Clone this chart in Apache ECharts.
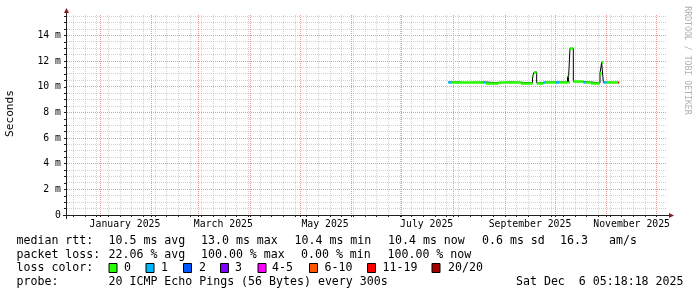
<!DOCTYPE html>
<html><head><meta charset="utf-8">
<script src="https://cdn.jsdelivr.net/npm/echarts@6/dist/echarts.min.js"></script>
<style>html,body{margin:0;padding:0;background:#fff}#c{width:697px;height:297px}</style>
</head><body><div id="c"></div>
<script>
// ---------- data ----------
const segStart = ['2025-07-29','2025-07-31','2025-08-05','2025-08-07','2025-08-19','2025-08-20T12','2025-08-28','2025-09-04T12','2025-09-10T12','2025-09-17T12','2025-09-18T12','2025-09-20','2025-09-24','2025-09-25T12','2025-10-01T12','2025-10-03T12','2025-10-08T12','2025-10-09','2025-10-10','2025-10-12','2025-10-18','2025-10-19T12','2025-10-22T12','2025-10-28','2025-10-29','2025-10-30','2025-11-01','2025-11-08'];
const segEnd   = ['2025-07-31','2025-08-05','2025-08-07','2025-08-19','2025-08-20T12','2025-08-28','2025-09-04T12','2025-09-10T12','2025-09-17T12','2025-09-18T12','2025-09-20','2025-09-24','2025-09-25T12','2025-10-01T12','2025-10-03T12','2025-10-08T12','2025-10-09','2025-10-10','2025-10-12','2025-10-18','2025-10-19T12','2025-10-22T12','2025-10-28','2025-10-29','2025-10-30','2025-11-01','2025-11-08','2025-11-08T12'];
const medianMs = [10.37,10.37,10.33,10.37,10.37,10.31,10.37,10.35,10.31,10.8,11.15,10.31,10.37,10.37,10.37,10.37,10.8,10.37,13.0,10.40,10.39,10.37,10.31,11.07,11.9,10.35,10.35,10.35];
const lostPings = [1,0,0,0,1,0,0,0,0,0,0,0,1,0,1,0,0,0,0,0,1,0,0,0,0,1,0,15];

const monthStarts = ['2025-01-01','2025-02-01','2025-03-01','2025-04-01','2025-05-01','2025-06-01','2025-07-01','2025-08-01','2025-09-01','2025-10-01','2025-11-01','2025-12-01'];
const monthLabelAt = ['2025-01-16','2025-03-16','2025-05-16','2025-07-16','2025-09-16','2025-11-16'];
const monthLabels  = ['January 2025','March 2025','May 2025','July 2025','September 2025','November 2025'];
const yTickValues = [0,2,4,6,8,10,12,14];
const yTickLabels = ['0','2 m','4 m','6 m','8 m','10 m','12 m','14 m'];

const lossLabels = ['0','1','2','3','4-5','6-10','11-19','20/20'];
const lossUpper  = [0,1,2,3,5,10,19,20];
const lossColors = ['#26ff00','#00b8ff','#0059ff','#7e00ff','#ff00ff','#ff5500','#ff0000','#a10000'];

const statsLine1 = ['median rtt:','10.5 ms avg','13.0 ms max','10.4 ms min','10.4 ms now','0.6 ms sd','16.3','am/s'];
const statsLine2 = ['packet loss:','22.06 % avg','100.00 % max','0.00 % min','100.00 % now'];
const probeText = ['probe:','20 ICMP Echo Pings (56 Bytes) every 300s'];
const stampText = 'Sat Dec  6 05:18:18 2025';

// ---------- helpers ----------
function dayNum(s){const p=s.split('T');const d=p[0].split('-').map(Number);const h=p[1]?parseInt(p[1]):0;
  return (Date.UTC(d[0],d[1]-1,d[2],h)-Date.UTC(2025,0,1))/864e5;}
const XMIN=-19.8, XMAX=XMIN+360, YMAX=15.6;
function lossColor(n){for(let i=0;i<lossUpper.length;i++){if(n<=lossUpper[i])return lossColors[i];}return lossColors[lossColors.length-1];}

const outline=[]; const segs=[];
for(let i=0;i<segStart.length;i++){
  const a=dayNum(segStart[i]), b=dayNum(segEnd[i]);
  outline.push([a,medianMs[i]]); outline.push([b,medianMs[i]]);
  segs.push({coords:[[a,medianMs[i]],[b,medianMs[i]]],lineStyle:{color:lossColor(lostPings[i])}});
}
const weekLines=[]; for(let d=dayNum('2024-12-16'); d<=XMAX; d+=7) weekLines.push(d);
const monthLines=monthStarts.map(dayNum);
const minorY=[], majorY=[];
for(let k=1;k<=31;k++){const v=k*0.5; if(k%4===0) majorY.push(v); else minorY.push(v);}
const minorGrid=[];
weekLines.forEach(v=>minorGrid.push([0,v]));
minorY.forEach(v=>minorGrid.push([1,v]));
const MINOR_C='rgba(143,143,143,0.4)', MAJOR_C='rgb(236,150,150)';

function gridRenderer(color){
  return function(params,api){
    const o=api.value(0), v=api.value(1);
    const cs=params.coordSys;
    let shape;
    if(o===0){const p=api.coord([v,0]); const x=Math.floor(p[0])+0.5; shape={x1:x,y1:cs.y,x2:x,y2:cs.y+cs.height};}
    else {const p=api.coord([XMIN,v]); const y=Math.floor(p[1])+0.5; shape={x1:cs.x,y1:y,x2:cs.x+cs.width,y2:y};}
    return {type:'line',shape:shape,style:{stroke:color,lineWidth:1,lineDash:[1,1]}};
  };
}

const MONO='"DejaVu Sans Mono", monospace';
const LF='11.6px '+MONO;
const labelDays=monthLabelAt.map(dayNum);

// ---------- graphics (text, axes arrows, legend) ----------
const g=[];
function txt(t,x,y){g.push({type:'text',x:x,y:y,silent:true,style:{text:t,font:LF,fill:'#000',align:'left',verticalAlign:'middle'}});}
const l1x=[16.5,108.5,201,294.5,388,482,560,609];
statsLine1.forEach((t,i)=>txt(t,l1x[i],241));
const l2x=[16.5,108.5,201,301,387.5];
statsLine2.forEach((t,i)=>txt(t,l2x[i],254.5));
txt('loss color:',16.5,268);
const boxX=[108.5,145.5,183,220,257.5,309,367,431.5];
const labX=[124,161,199,235,272,324.5,382.5,448];
lossLabels.forEach((t,i)=>{
  g.push({type:'rect',silent:true,shape:{x:boxX[i]+0.5,y:263.5,width:8,height:9},style:{fill:lossColors[i],stroke:'#000',lineWidth:1}});
  txt(t,labX[i],268);
});
txt(probeText[0],16.5,281.5); txt(probeText[1],108.5,281.5);
g.push({type:'text',x:683.5,y:281.5,silent:true,style:{text:stampText,font:LF,fill:'#000',align:'right',verticalAlign:'middle'}});
g.push({type:'text',x:10.5,y:113.5,rotation:Math.PI/2,silent:true,style:{text:'Seconds',font:'11.2px '+MONO,fill:'#000',align:'center',verticalAlign:'middle'}});
g.push({type:'text',x:687,y:60.5,rotation:-Math.PI/2,silent:true,style:{text:'RRDTOOL / TOBI OETIKER',font:'8.2px '+MONO,fill:'#b0b0b0',align:'center',verticalAlign:'middle'}});
g.push({type:'line',silent:true,z:50,shape:{x1:66.5,y1:219,x2:66.5,y2:11},style:{stroke:'#1f1f1f',lineWidth:1}});
g.push({type:'line',silent:true,z:50,shape:{x1:63,y1:215.5,x2:670,y2:215.5},style:{stroke:'#1f1f1f',lineWidth:1}});
g.push({type:'polygon',silent:true,z:51,shape:{points:[[64,13],[69,13],[66.5,8]]},style:{fill:'#801f1f'}});
g.push({type:'polygon',silent:true,z:51,shape:{points:[[669,213],[669,218],[674,215.5]]},style:{fill:'#801f1f'}});

const chart=echarts.init(document.getElementById('c'),null,{renderer:'canvas'});
chart.setOption({
  animation:false,
  backgroundColor:'#ffffff',
  grid:{left:67,top:15,width:600,height:200,containLabel:false},
  xAxis:{type:'value',min:XMIN,max:XMAX,
    axisLine:{show:false,onZero:false},splitLine:{show:false},
    axisTick:{show:true,customValues:weekLines.concat(monthLines),length:2,lineStyle:{color:'#1f1f1f',width:1}},
    axisLabel:{show:true,customValues:labelDays,margin:4,color:'#000',fontFamily:'DejaVu Sans Mono',fontSize:9.8,
      formatter:function(v){const i=labelDays.findIndex(d=>Math.abs(d-v)<1e-6);return i>=0?monthLabels[i]:'';}}},
  yAxis:{type:'value',min:0,max:YMAX,
    axisLine:{show:false,onZero:false},splitLine:{show:false},
    axisTick:{show:true,customValues:majorY.concat(minorY).concat([0]),length:3,lineStyle:{color:'#1f1f1f',width:1}},
    axisLabel:{show:true,customValues:yTickValues,margin:6,color:'#000',fontFamily:'DejaVu Sans Mono',fontSize:9.8,
      formatter:function(v){const i=yTickValues.indexOf(v);return i>=0?yTickLabels[i]:'';}}},
  series:[
    {type:'custom',name:'minorGrid',silent:true,z:1,clip:false,data:minorGrid,renderItem:gridRenderer(MINOR_C)},
    {type:'line',name:'median',data:outline,showSymbol:false,z:3,silent:true,lineStyle:{color:'#000',width:1}},
    {type:'lines',name:'loss',coordinateSystem:'cartesian2d',polyline:false,z:4,silent:true,
      lineStyle:{width:2.6,opacity:1},data:segs}
  ]
});
// major grid lines placed through the chart's own scales
const gTop=15, gBottom=215, gLeft=67, gRight=667;
monthLines.forEach(v=>{
  const x=Math.floor(chart.convertToPixel({gridIndex:0},[v,0])[0])+0.5;
  g.push({type:'line',silent:true,z:2,shape:{x1:x,y1:gTop,x2:x,y2:gBottom},style:{stroke:MAJOR_C,lineWidth:1,lineDash:[1,1]}});
});
majorY.forEach(v=>{
  const y=Math.floor(chart.convertToPixel({gridIndex:0},[XMIN,v])[1])+0.5;
  g.push({type:'line',silent:true,z:2,shape:{x1:gLeft,y1:y,x2:gRight,y2:y},style:{stroke:MAJOR_C,lineWidth:1,lineDash:[1,1]}});
});
chart.setOption({graphic:g});
</script></body></html>
